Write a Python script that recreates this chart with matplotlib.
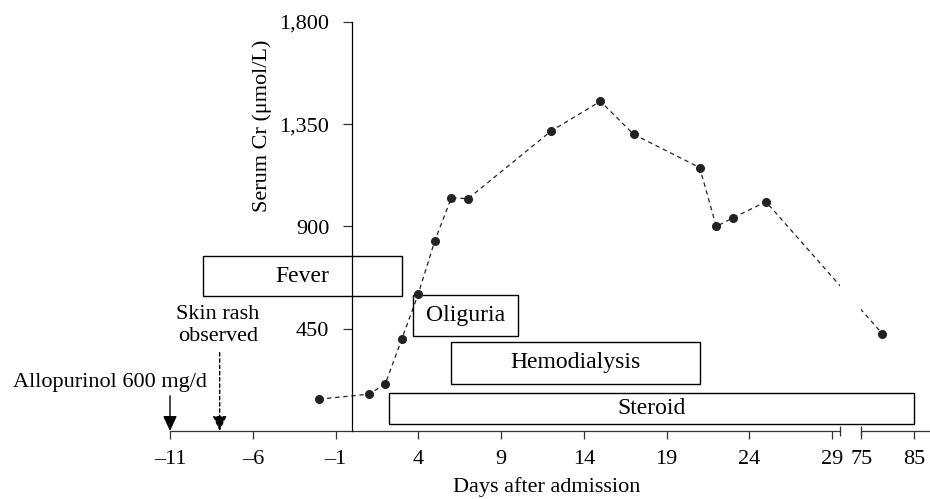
import numpy as np
import matplotlib.pyplot as plt
from matplotlib.patches import Rectangle

plt.rcParams['font.family'] = ['Liberation Serif', 'DejaVu Serif']

# Serum creatinine measurements
days = [-2, 1, 2, 3, 4, 5, 6, 7, 12, 15, 17, 21, 22, 23, 25, 79]
serum_cr = [140, 162, 206, 404, 604, 838, 1027, 1022, 1319, 1451, 1306, 1159, 900, 938, 1009, 428]

tick_days = [-11, -6, -1, 4, 9, 14, 19, 24, 29, 75, 85]
tick_labels = ['\u201311', '\u20136', '\u20131', '4', '9', '14', '19', '24', '29', '75', '85']
y_ticks = [450, 900, 1350, 1800]
y_labels = ['450', '900', '1,350', '1,800']

# clinical course bars
events = ['Fever', 'Oliguria', 'Hemodialysis', 'Steroid']
event_start = [-9, 3.65, 6, 2.25]
event_end = [3, 10, 21, 85]
event_low = [592, 419, 209, 31]
event_high = [772, 600, 390, 169]

# broken x axis: days 29.5..75 squeezed, after 75 compressed
brk = [-100, 29.5, 75, 200]
scaled = [-100, 29.5, 30.75, 30.75 + 125 * 0.32]


def fwd(x):
    return np.interp(x, brk, scaled)


def inv(x):
    return np.interp(x, scaled, brk)


fig = plt.figure(figsize=(9.3, 4.99), dpi=100)
ax = fig.add_axes([170 / 930, 68 / 499, 760 / 930, 409 / 499])
ax.set_xscale('function', functions=(fwd, inv))
ax.set_xlim(-11, 88)
ax.set_ylim(0, 1800)

ax.spines['top'].set_visible(False)
ax.spines['right'].set_visible(False)
ax.spines['bottom'].set_visible(False)
ax.spines['left'].set_position(('data', 0))
ax.spines['left'].set_linewidth(0.9)
ax.spines['left'].set_zorder(6)

# x axis line with break
ax.plot([-11, 29.5], [0, 0], color='#333333', lw=0.9, clip_on=False, zorder=6)
ax.plot([75, 88], [0, 0], color='#333333', lw=0.9, clip_on=False, zorder=6)
ax.plot([29.5, 75], [0, 0], linestyle='none', marker='|', ms=7, mew=0.9,
        color='#333333', clip_on=False, zorder=6)

ax.set_xticks(tick_days)
ax.set_xticklabels(tick_labels)
ax.xaxis.set_minor_locator(plt.NullLocator())
ax.set_yticks(y_ticks)
ax.set_yticklabels(y_labels)
ax.tick_params(axis='x', direction='out', length=6, width=0.9, pad=8,
               labelsize=16, color='#333333')
ax.tick_params(axis='y', direction='out', length=6.5, width=0.9, pad=10,
               labelsize=16, color='#333333')

ax.text(0.121, 0.745, 'Serum Cr (\u03bcmol/L)', rotation=90, ha='center', va='center',
        fontsize=16, transform=ax.transAxes)
ax.text(0.496, -0.137, 'Days after admission', ha='center', va='center',
        fontsize=16, transform=ax.transAxes)

# boxes
for name, s, e, lo, hi in zip(events, event_start, event_end, event_low, event_high):
    ax.add_patch(Rectangle((s, lo), e - s, hi - lo, facecolor='white',
                           edgecolor='black', lw=1.0, zorder=4))
    xm = inv((fwd(s) + fwd(e)) / 2)
    ax.text(xm, (lo + hi) / 2, name, ha='center', va='center', fontsize=17, zorder=5)

# data
ax.plot(days, serum_cr, color='#222222', lw=0.9, dashes=(3.5, 3), marker='o',
        ms=5.5, zorder=4.5, clip_on=False)
ax.axvspan(29.5, 75, ymin=0.15, ymax=0.95, color='white', lw=0, zorder=4.8)

# drug / rash arrows
ax.annotate('', xy=(-11, 0), xytext=(-11, 155),
            arrowprops=dict(arrowstyle='-|>,head_width=0.3,head_length=0.65', color='black',
                            lw=1.0, shrinkA=0, shrinkB=0, mutation_scale=14),
            annotation_clip=False)
ax.text(-14.6, 212, 'Allopurinol 600 mg/d', ha='center', va='center', fontsize=16)
ax.annotate('', xy=(-8, 0), xytext=(-8, 345),
            arrowprops=dict(arrowstyle='-|>,head_width=0.3,head_length=0.65', color='black',
                            lw=1.0, ls=(0, (2.5, 2)), shrinkA=0, shrinkB=0,
                            mutation_scale=14),
            annotation_clip=False)
ax.text(-8.1, 465, 'Skin rash\nobserved', ha='center', va='center', fontsize=16,
        linespacing=1.2)

fig.savefig('out.png', dpi=100)
